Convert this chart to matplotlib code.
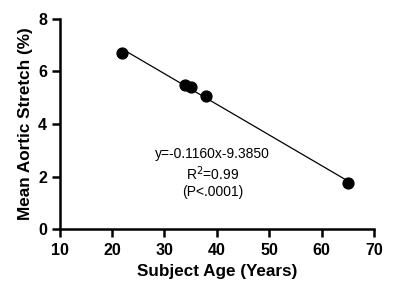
import numpy as np
import matplotlib
matplotlib.use('Agg')
import matplotlib.pyplot as plt

plt.rcParams['font.family'] = ['Liberation Sans', 'DejaVu Sans']

# data
age = [22, 34, 35, 38, 65]
stretch = [6.7, 5.5, 5.42, 5.07, 1.76]
x_ticks = [10, 20, 30, 40, 50, 60, 70]
y_ticks = [0, 2, 4, 6, 8]
fit_text = "y=-0.1160x-9.3850\nR$^2$=0.99\n(P<.0001)"

fig = plt.figure(figsize=(4.0, 3.01), dpi=100)
ax = fig.add_axes([0.149, 0.239, 0.786, 0.698])

# regression line over the data range
coef = np.polyfit(age, stretch, 1)
xs = np.array([min(age), max(age)])
ax.plot(xs, np.polyval(coef, xs), color='black', linewidth=0.9, zorder=2)
ax.plot(age, stretch, 'o', color='black', markersize=7.8, zorder=3)

ax.text(39.2, 2.12, fit_text, ha='center', va='center', fontsize=10, linespacing=1.2)

ax.set_xlim(10, 70)
ax.set_ylim(0, 8)
ax.set_xticks(x_ticks)
ax.set_yticks(y_ticks)
for side in ['top', 'right']:
    ax.spines[side].set_visible(False)
for side in ['left', 'bottom']:
    ax.spines[side].set_linewidth(1.8)
ax.tick_params(width=1.8, length=5.5, labelsize=11.5)
ax.tick_params(axis='x', pad=4.5)
for lab in ax.get_xticklabels() + ax.get_yticklabels():
    lab.set_fontweight('bold')

ax.set_xlabel('Subject Age (Years)', fontsize=12.3, fontweight='bold')
ax.set_ylabel('Mean Aortic Stretch (%)', fontsize=12.3, fontweight='bold')

fig.savefig('out.png', dpi=100)
